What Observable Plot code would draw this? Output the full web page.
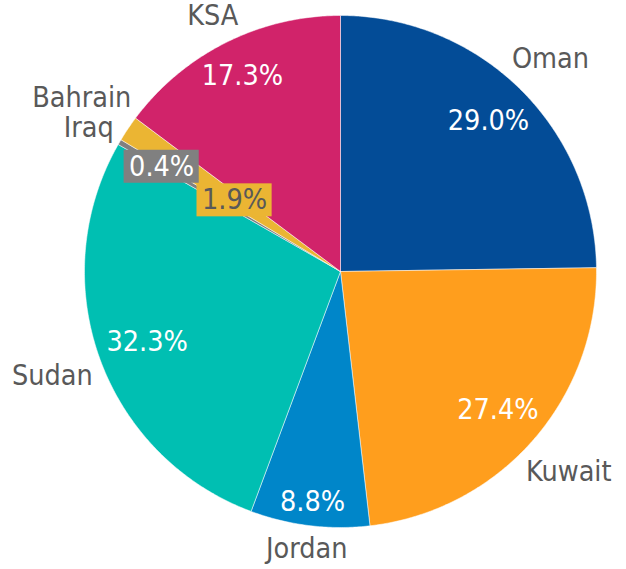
<!DOCTYPE html>
<html>
<head>
<meta charset="utf-8">
<script src="https://cdn.jsdelivr.net/npm/d3@7"></script>
<script src="https://cdn.jsdelivr.net/npm/@observablehq/plot@0.6"></script>
<style>
  html, body { margin: 0; padding: 0; background: #fff; }
  #chart { width: 626px; height: 569px; }
</style>
</head>
<body>
<div id="chart"></div>
<script>
// ---- data ----
const names  = ["Oman", "Kuwait", "Jordan", "Sudan", "Iraq", "Bahrain", "KSA"];
const values = [29.0, 27.4, 8.8, 32.3, 0.4, 1.9, 17.3];
const labels = ["29.0%", "27.4%", "8.8%", "32.3%", "0.4%", "1.9%", "17.3%"];
const colors = ["#034C97", "#FF9E1D", "#0086C9", "#00BFB2", "#808080", "#EBB533", "#D1236A"];

// ---- layout ----
const W = 626, H = 569;
const cx = 340, cy = 271, R = 256;
const FONT = '"DejaVu Sans Condensed", "DejaVu Sans", sans-serif';
const FS = 28.5;
const TEXT_GREY = "#595959";

const ctx = document.createElement("canvas").getContext("2d");
ctx.font = `${FS}px ${FONT}`;
const tw = s => ctx.measureText(s).width;

const pie = d3.pie().sort(null).value(d => d)(values);

// slice polygons (center + arc points)
const slicePts = [];
pie.forEach((p, i) => {
  const a0 = p.startAngle, a1 = p.endAngle;
  const n = Math.max(2, Math.ceil((a1 - a0) / (Math.PI / 360)));
  slicePts.push({name: names[i], x: cx, y: cy});
  for (let k = 0; k <= n; k++) {
    const a = a0 + (a1 - a0) * k / n;
    slicePts.push({name: names[i], x: cx + R * Math.sin(a), y: cy - R * Math.cos(a)});
  }
  slicePts.push({name: names[i], x: cx, y: cy});
});

const ext = (w, h, a) => w / 2 * Math.abs(Math.sin(a)) + h / 2 * Math.abs(Math.cos(a));
const overlap = (a, b) => !(a.x + a.w / 2 <= b.x - b.w / 2 || b.x + b.w / 2 <= a.x - a.w / 2 ||
                             a.y + a.h / 2 <= b.y - b.h / 2 || b.y + b.h / 2 <= a.y - a.h / 2);

// outer category labels (placed counter-clockwise from the top; collisions pushed down)
const outer = [];
pie.map((p, i) => ({p, i})).reverse().forEach(({p, i}) => {
  const a = (p.startAngle + p.endAngle) / 2;
  const w = tw(names[i]), h = 30;
  const r = R + 9 + ext(w, 20, a);
  const box = {x: cx + r * Math.sin(a), y: cy - r * Math.cos(a), w, h};
  for (let k = 0; k < 60 && outer.some(o => overlap(o, box)); k++) box.y += 1;
  outer.push({...box, text: names[i]});
});

// inner value labels
const inner = [], boxes = [];
pie.forEach((p, i) => {
  const a = (p.startAngle + p.endAngle) / 2;
  const small = (p.endAngle - p.startAngle) < Math.PI / 18;
  const w = tw(labels[i]) + (small ? 10 : 0), h = small ? 33 : 24;
  let r = R - 8 - ext(w, h, a);
  let box;
  for (let k = 0; k < 100; k++) {
    box = {x: cx + r * Math.sin(a), y: cy - r * Math.cos(a), w, h};
    if (!boxes.some(o => overlap(o, box))) break;
    r -= 2;
  }
  if (small) boxes.push(box);
  const c = d3.rgb(colors[i]);
  const lum = 0.2126 * (c.r / 255) ** 2.2 + 0.7152 * (c.g / 255) ** 2.2 + 0.0722 * (c.b / 255) ** 2.2;
  inner.push({...box, text: labels[i], small, bg: colors[i],
              color: small && lum > 0.35 ? TEXT_GREY : "#ffffff"});
});
const smallBoxes = inner.filter(d => d.small);

const chart = Plot.plot({
  width: W, height: H, margin: 0,
  x: {domain: [0, W], range: [0, W], axis: null},
  y: {domain: [0, H], range: [0, H], axis: null},
  color: {type: "ordinal", domain: names, range: colors},
  style: {fontFamily: FONT, background: "#fff"},
  marks: [
    Plot.line(slicePts, {x: "x", y: "y", z: "name", fill: "name", stroke: "#ffffff", strokeWidth: 0.5, strokeLinejoin: "round"}),
    Plot.rect(smallBoxes, {x1: d => d.x - d.w / 2, x2: d => d.x + d.w / 2, y1: d => d.y - d.h / 2, y2: d => d.y + d.h / 2, fill: d => d.bg}),
    Plot.text(inner, {x: "x", y: "y", text: "text", fill: d => d.color, fontSize: FS, fontFamily: FONT}),
    Plot.text(outer, {x: "x", y: "y", text: "text", fill: TEXT_GREY, fontSize: FS, fontFamily: FONT})
  ]
});
document.getElementById("chart").appendChild(chart);
</script>
</body>
</html>
